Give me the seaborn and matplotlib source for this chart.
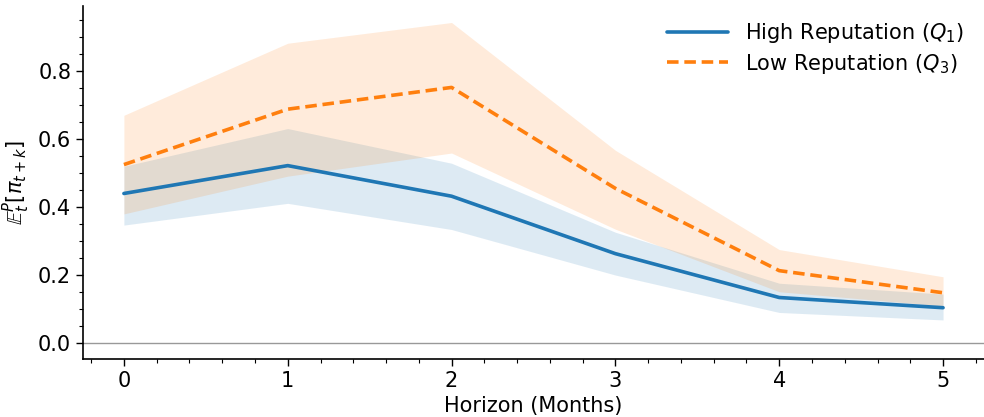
import numpy as np
import pandas as pd
import matplotlib
matplotlib.use("Agg")
import matplotlib.pyplot as plt
import seaborn as sns
from matplotlib.ticker import MultipleLocator

horizon = [0, 1, 2, 3, 4, 5]
high_mean = [0.440, 0.522, 0.432, 0.263, 0.134, 0.104]
high_lo = [0.347, 0.411, 0.334, 0.200, 0.090, 0.068]
high_hi = [0.520, 0.631, 0.529, 0.326, 0.176, 0.144]
low_mean = [0.525, 0.688, 0.752, 0.455, 0.213, 0.148]
low_lo = [0.380, 0.491, 0.559, 0.335, 0.151, 0.109]
low_hi = [0.670, 0.882, 0.943, 0.567, 0.275, 0.195]
labels = ["High Reputation ($Q_1$)", "Low Reputation ($Q_3$)"]

sns.set_style("ticks")
plt.rcParams["font.family"] = ["DejaVu Sans"]
plt.rcParams["text.color"] = "black"
plt.rcParams["axes.labelcolor"] = "black"

fig = plt.figure(figsize=(9.84, 4.17), dpi=100)
ax = fig.add_axes([0.0843, 0.139, 0.9157, 0.847])

df = pd.DataFrame({
    "Horizon": horizon * 2,
    "value": high_mean + low_mean,
    "series": [labels[0]] * 6 + [labels[1]] * 6,
})
blue, orange = "#1f77b4", "#ff7f0e"
sns.lineplot(data=df, x="Horizon", y="value", hue="series", style="series",
             palette=[blue, orange], dashes=[(None, None), (3.2, 1.6)],
             linewidth=2.6, ax=ax)
ax.fill_between(horizon, high_lo, high_hi, color=blue, alpha=0.15, linewidth=0)
ax.fill_between(horizon, low_lo, low_hi, color=orange, alpha=0.15, linewidth=0)
ax.axhline(0, color="grey", linewidth=1, alpha=0.8, zorder=0)

ax.set_xlim(-0.25, 5.25)
ax.set_ylim(-0.047, 0.992)
ax.set_xticks(horizon)
ax.set_yticks([0.0, 0.2, 0.4, 0.6, 0.8])
ax.xaxis.set_minor_locator(MultipleLocator(0.2))
ax.yaxis.set_minor_locator(MultipleLocator(0.05))
ax.tick_params(axis="both", which="major", labelsize=15, length=5, width=1,
               colors="black", labelcolor="black")
ax.tick_params(axis="both", which="minor", length=3, width=0.8, colors="black")
for s in ["left", "bottom"]:
    ax.spines[s].set_color("black")
    ax.spines[s].set_linewidth(1.2)
sns.despine(ax=ax)

ax.set_xlabel("Horizon (Months)", fontsize=15, color="black")
ax.set_ylabel(r"$\mathbb{E}_t^P[\pi_{t+k}]$", fontsize=15, color="black")
leg = ax.legend(loc="upper right", bbox_to_anchor=(0.9945, 1.0), frameon=False,
                fontsize=15, handlelength=2.9, labelspacing=0.3, borderaxespad=0.35)
for t in leg.get_texts():
    t.set_color("black")

fig.savefig("out.png", dpi=100)
